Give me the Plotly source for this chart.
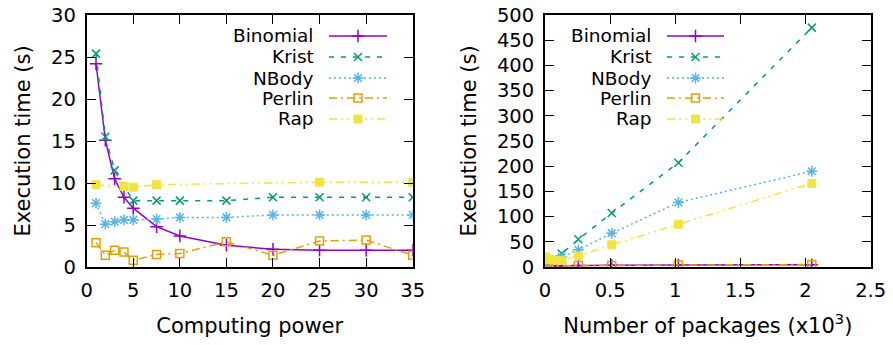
import plotly.graph_objects as go

# ---------------- data ----------------
power = [1, 2, 3, 4, 5, 7.5, 10, 15, 20, 25, 30, 35]
binomial_p = [24.2, 15.1, 10.5, 8.3, 7.0, 4.8, 3.7, 2.6, 2.1, 2.0, 2.0, 2.0]
krist_p = [25.4, 15.5, 11.5, 9.6, 7.9, 7.9, 7.9, 7.9, 8.3, 8.3, 8.3, 8.3]
nbody_p = [7.6, 5.1, 5.4, 5.6, 5.6, 5.7, 5.9, 5.9, 6.2, 6.2, 6.2, 6.2]
perlin_p = [2.9, 1.4, 2.0, 1.8, 0.8, 1.5, 1.6, 3.0, 1.4, 3.1, 3.2, 1.4]
rap_power = [1, 4, 5, 7.5, 25, 35]
rap_p = [9.8, 9.6, 9.5, 9.8, 10.1, 10.1]

packages = [0.001, 0.002, 0.004, 0.008, 0.016, 0.032, 0.064, 0.128, 0.256, 0.512, 1.024, 2.048]
binomial_k = [1.5, 1.5, 1.6, 1.7, 1.8, 2.0, 2.2, 2.5, 3.0, 3.5, 4.0, 4.5]
krist_k = [3.0, 3.5, 4.0, 5.0, 7.0, 10.0, 16.0, 26.5, 55.0, 107.0, 207.0, 475.0]
nbody_k = [4.0, 4.0, 4.5, 5.0, 6.0, 8.0, 12.0, 20.0, 34.0, 67.0, 128.0, 190.0]
perlin_k = [1.0, 1.0, 1.1, 1.2, 1.4, 1.6, 2.0, 2.4, 2.8, 3.2, 3.8, 5.0]
rap_k = [20.0, 19.0, 18.0, 17.0, 16.0, 15.0, 14.0, 13.5, 22.0, 44.0, 85.0, 166.0]

series_names = ["Binomial", "Krist", "NBody", "Perlin", "Rap"]

left_x_ticks = [0, 5, 10, 15, 20, 25, 30, 35]
left_y_ticks = [0, 5, 10, 15, 20, 25, 30]
right_x_ticks = [0, 0.5, 1, 1.5, 2, 2.5]
right_y_ticks = list(range(0, 501, 50))

# ---------------- page geometry ----------------
W, H = 893, 345


def px(xp):
    return xp / W


def py(yp):
    return 1 - yp / H


FONT = "DejaVu Sans"
TICK_SIZE = 19.5
TITLE_SIZE = 21
LEGEND_SIZE = 18.5
styles = {
    "Binomial": dict(color="#9400D3", dash="solid", symbol="cross-thin-open", size=9),
    "Krist": dict(color="#009E73", dash="5px,7px", symbol="x-thin-open", size=8),
    "NBody": dict(color="#56B4E9", dash="2px,3px", symbol="asterisk-open", size=9),
    "Perlin": dict(color="#E69F00", dash="8px,4px,2px,4px", symbol="square-open", size=8),
    "Rap": dict(color="#F0E442", dash="8px,4px,2px,4px,2px,4px", symbol="square", size=8),
}


def trace(name, x, y, xa, ya):
    s = styles[name]
    filled = s["symbol"] == "square"
    return go.Scatter(
        x=x, y=y, mode="lines+markers", name=name, showlegend=False,
        xaxis=xa, yaxis=ya,
        line=dict(color=s["color"], width=1.5, dash=s["dash"]),
        marker=dict(symbol=s["symbol"], size=s["size"], color=s["color"],
                    line=dict(color=s["color"], width=1 if filled else 1.5)),
    )


fig = go.Figure()
left_data = {"Binomial": (power, binomial_p), "Krist": (power, krist_p),
             "NBody": (power, nbody_p), "Perlin": (power, perlin_p),
             "Rap": (rap_power, rap_p)}
right_data = {"Binomial": (packages, binomial_k), "Krist": (packages, krist_k),
              "NBody": (packages, nbody_k), "Perlin": (packages, perlin_k),
              "Rap": (packages, rap_k)}
for n in series_names:
    fig.add_trace(trace(n, *left_data[n], "x", "y"))
for n in series_names:
    fig.add_trace(trace(n, *right_data[n], "x2", "y2"))

# ---------------- manual gnuplot-style legends ----------------
legend_rows = [36, 57, 78, 98, 119]
legend_cfg = [
    dict(text_right=316, line_x0=329, line_x1=387),
    dict(text_right=654, line_x0=667, line_x1=724),
]
for cfg in legend_cfg:
    for n, ry in zip(series_names, legend_rows):
        s = styles[n]
        filled = s["symbol"] == "square"
        xm = (cfg["line_x0"] + cfg["line_x1"]) / 2
        fig.add_trace(go.Scatter(
            x=[cfg["line_x0"], cfg["line_x1"]], y=[ry, ry], mode="lines",
            xaxis="x3", yaxis="y3", showlegend=False, hoverinfo="skip",
            line=dict(color=s["color"], width=1.5, dash=s["dash"])))
        fig.add_trace(go.Scatter(
            x=[xm], y=[ry], mode="markers",
            xaxis="x3", yaxis="y3", showlegend=False, hoverinfo="skip",
            marker=dict(symbol=s["symbol"], size=s["size"], color=s["color"],
                        line=dict(color=s["color"], width=1 if filled else 1.5))))
        fig.add_annotation(x=px(cfg["text_right"]), y=py(ry), xref="paper", yref="paper",
                           text=n, showarrow=False, xanchor="right", yanchor="middle",
                           font=dict(family=FONT, size=LEGEND_SIZE, color="black"))

# ---------------- axes ----------------
ydom = [py(267), py(15)]
axis_common = dict(showgrid=False, zeroline=False, showline=True, linecolor="black",
                   linewidth=1.8, mirror="allticks", ticks="inside", ticklen=9,
                   tickwidth=1.3, tickcolor="black", automargin=False,
                   ticklabeloverflow="allow",
                   tickfont=dict(family=FONT, size=TICK_SIZE, color="black"))
title_font = dict(family=FONT, size=TITLE_SIZE, color="black")

fig.update_layout(
    width=W, height=H, margin=dict(l=0, r=0, t=0, b=0, autoexpand=False),
    paper_bgcolor="white", plot_bgcolor="rgba(0,0,0,0)", showlegend=False,
    xaxis=dict(domain=[px(86.7), px(412.7)], range=[0, 35], tickvals=left_x_ticks,
               ticklabelstandoff=5,
               title=dict(text="Computing power", standoff=17, font=title_font),
               anchor="y", **axis_common),
    yaxis=dict(domain=ydom, range=[0, 30], tickvals=left_y_ticks,
               ticklabelstandoff=5,
               title=dict(text="Execution time (s)", standoff=15, font=title_font),
               anchor="x", **axis_common),
    xaxis2=dict(domain=[px(545), px(870.7)], range=[0, 2.5], tickvals=right_x_ticks,
                ticktext=[f"{v:g}" for v in right_x_ticks], ticklabelstandoff=5,
                title=dict(text="Number of packages (x10<sup>3</sup>)", standoff=17,
                           font=title_font),
                anchor="y2", **axis_common),
    yaxis2=dict(domain=ydom, range=[0, 500], tickvals=right_y_ticks,
                ticklabelstandoff=5,
                title=dict(text="Execution time (s)", standoff=15, font=title_font),
                anchor="x2", **axis_common),
    xaxis3=dict(domain=[0, 1], range=[0, W], visible=False, anchor="y3",
                fixedrange=True, automargin=False),
    yaxis3=dict(domain=[0, 1], range=[H, 0], visible=False, anchor="x3",
                fixedrange=True, automargin=False),
)

fig.write_html("out.html", config={"displayModeBar": False},
               post_script="document.body.style.margin='0';document.body.style.overflow='hidden';")
